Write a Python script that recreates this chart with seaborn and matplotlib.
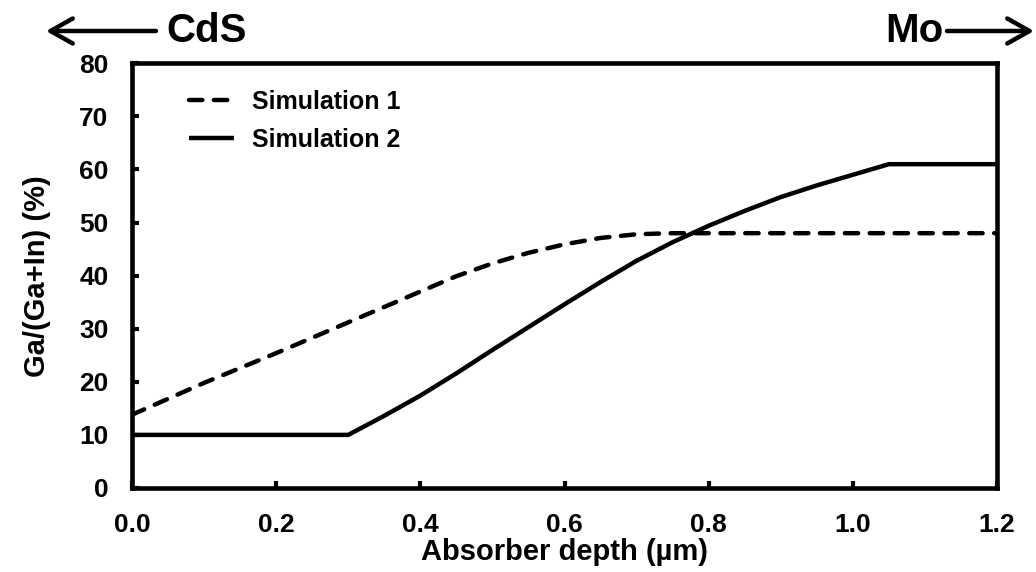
import matplotlib
matplotlib.use("Agg")
import matplotlib.pyplot as plt
import seaborn as sns
import pandas as pd
from matplotlib.patches import ArrowStyle

# Ga/(Ga+In) grading profiles through the absorber
depth_sim1 = [0.0, 0.05, 0.1, 0.15, 0.2, 0.25, 0.3, 0.35, 0.4, 0.45, 0.5,
              0.55, 0.6, 0.65, 0.7, 0.75, 0.8, 1.2]
ga_sim1 = [13.8, 16.8, 19.8, 22.6, 25.4, 28.3, 31.2, 34.1, 37.0, 39.9, 42.3,
           44.3, 45.9, 47.1, 47.8, 48.0, 48.0, 48.0]

depth_sim2 = [0.0, 0.3, 0.35, 0.4, 0.45, 0.5, 0.55, 0.6, 0.65, 0.7, 0.75,
              0.8, 0.85, 0.9, 0.95, 1.0, 1.05, 1.2]
ga_sim2 = [10.0, 10.0, 13.6, 17.4, 21.6, 26.0, 30.3, 34.6, 38.8, 42.8, 46.3,
           49.4, 52.2, 54.8, 57.0, 59.0, 61.0, 61.0]

series_names = ["Simulation 1", "Simulation 2"]
x_ticks = [0.0, 0.2, 0.4, 0.6, 0.8, 1.0, 1.2]
y_ticks = [0, 10, 20, 30, 40, 50, 60, 70, 80]

sns.set_style("ticks")
plt.rcParams["font.family"] = ["Liberation Sans", "DejaVu Sans"]
plt.rcParams["font.weight"] = "bold"
plt.rcParams["axes.labelweight"] = "bold"
plt.rcParams["text.color"] = "black"
plt.rcParams["axes.labelcolor"] = "black"
plt.rcParams["xtick.color"] = "black"
plt.rcParams["ytick.color"] = "black"

df = pd.concat([
    pd.DataFrame({"depth": depth_sim1, "ga": ga_sim1, "series": series_names[0]}),
    pd.DataFrame({"depth": depth_sim2, "ga": ga_sim2, "series": series_names[1]}),
], ignore_index=True)

fig = plt.figure(figsize=(10.36, 5.72), dpi=100)
ax = fig.add_axes([0.1274, 0.1469, 0.8350, 0.7424])

sns.lineplot(data=df, x="depth", y="ga", style="series",
             style_order=series_names,
             dashes={series_names[0]: (3, 2.6), series_names[1]: ""},
             color="black", linewidth=3.2, estimator=None, sort=False, ax=ax)
for line in ax.lines:
    line.set_dash_capstyle("round")
    line.set_solid_capstyle("butt")

ax.set_xlim(0, 1.2)
ax.set_ylim(0, 80)
ax.set_xticks(x_ticks)
ax.set_xticklabels([f"{t:.1f}" for t in x_ticks])
ax.set_yticks(y_ticks)
ax.tick_params(direction="in", length=5, width=3, labelsize=19,
               colors="black", labelcolor="black")
ax.tick_params(axis="x", pad=18)
ax.tick_params(axis="y", pad=17)
for sp in ax.spines.values():
    sp.set_linewidth(3.3)
    sp.set_color("black")

ax.set_xlabel("Absorber depth (µm)", fontsize=21, fontweight="bold",
              labelpad=1, color="black")
ax.set_ylabel("Ga/(Ga+In) (%)", fontsize=21, fontweight="bold",
              labelpad=20, color="black")

leg = ax.legend(loc="upper left", bbox_to_anchor=(0.04, 0.99), frameon=False,
                fontsize=18, handlelength=1.8, handletextpad=0.7,
                labelspacing=0.55, title=None)
for h in leg.get_lines():
    h.set_linewidth(3.2)
    h.set_dash_capstyle("round")
for t in leg.get_texts():
    t.set_color("black")

# layer markers above the plot
arrow = ArrowStyle("->", head_length=0.8, head_width=0.45)
fig.text(166 / 1036, 1 - 31 / 572, "CdS", fontsize=29, fontweight="bold",
         ha="left", va="center", color="black")
ax.annotate("", xy=(46 / 1036, 1 - 31 / 572), xytext=(156 / 1036, 1 - 31 / 572),
            xycoords="figure fraction", textcoords="figure fraction",
            arrowprops=dict(arrowstyle=arrow, lw=3.2, color="black",
                            mutation_scale=20, shrinkA=0, shrinkB=0))
fig.text(944 / 1036, 1 - 31 / 572, "Mo", fontsize=29, fontweight="bold",
         ha="right", va="center", color="black")
ax.annotate("", xy=(1034 / 1036, 1 - 31 / 572), xytext=(947 / 1036, 1 - 31 / 572),
            xycoords="figure fraction", textcoords="figure fraction",
            arrowprops=dict(arrowstyle=arrow, lw=3.2, color="black",
                            mutation_scale=20, shrinkA=0, shrinkB=0))

fig.savefig("out.png", dpi=100)
